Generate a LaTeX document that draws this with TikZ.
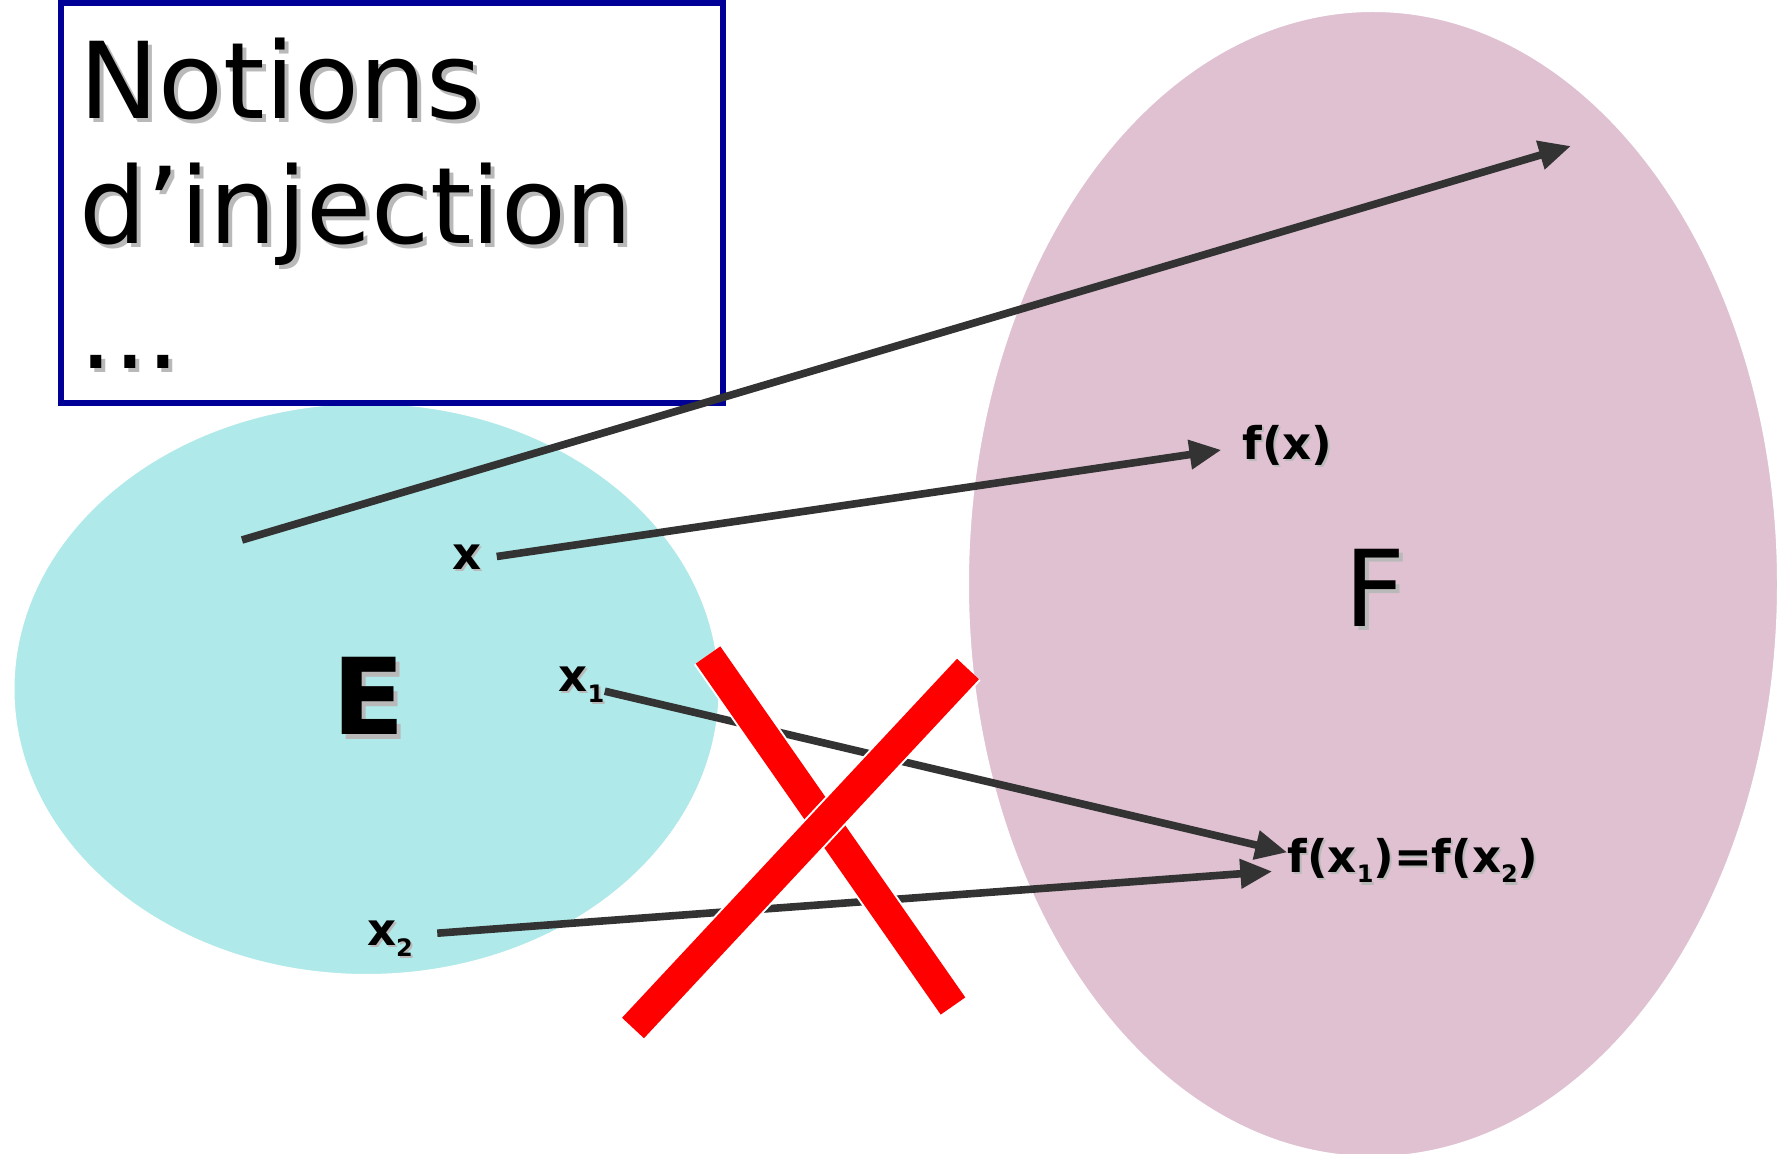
\documentclass[tikz,border=0pt]{standalone}
\usepackage{fontspec}
\setmainfont{DejaVu Sans}
\usetikzlibrary{arrows.meta}

\definecolor{cyanE}{RGB}{176,233,233}
\definecolor{roseF}{RGB}{224,193,209}
\definecolor{bleuCadre}{RGB}{0,0,150}
\definecolor{grisFleche}{RGB}{51,51,51}
\definecolor{grisOmbre}{RGB}{185,185,185}

% texte avec ombre portee grise
\newcommand{\ombre}[2][1pt]{\leavevmode\rlap{\hspace{#1}\raisebox{-#1}{\color{grisOmbre}#2}}#2}
\newcommand{\indice}[1]{\raisebox{-5.5pt}{\fontsize{12}{12}\selectfont #1}}

\begin{document}
\begin{tikzpicture}[x=0.5pt, y=-0.5pt,
    ens/.style={draw=white, line width=1pt},
    cadre/.style={draw=bleuCadre, line width=3pt, fill=white},
    fleche/.style={draw=grisFleche, line width=3.8pt, -{Triangle[length=16pt,width=14pt]}},
    croix/.style={draw=red, line width=15pt, preaction={draw=white, line width=17pt}},
    etiq/.style={inner sep=0pt, font=\fontsize{22.5}{27}\selectfont\bfseries},
    grand/.style={inner sep=0pt, font=\fontsize{53}{62}\selectfont}]
  \useasboundingbox (0,0) rectangle (1779,1154);
  \clip (0,0) rectangle (1779,1154);
  \fill[white] (0,0) rectangle (1779,1154);
  % Ensembles E et F
  \filldraw[ens, fill=cyanE] (366.5,689) ellipse [x radius=353, y radius=286];
  \filldraw[ens, fill=roseF] (1373,584) ellipse [x radius=405, y radius=573];
  % Titre (la base est celle de la derniere ligne)
  \draw[cadre] (61,3) rectangle (723,403);
  \node[grand, anchor=base west, align=left, font=\fontsize{53}{62.5}\selectfont] (titre) at (79,369)
    {\ombre[2pt]{Notions}\\\ombre[2pt]{d’injection}\\\ombre[2pt]{...}};
  % Noms des ensembles
  \node[grand, font=\fontsize{53}{62}\selectfont\bfseries, anchor=base] (labE) at (369,735) {\ombre[2pt]{E}};
  \node[grand, anchor=base] (labF) at (1375,627) {\ombre[2pt]{F}};
  % Elements et images
  \node[etiq, anchor=base] (x) at (467,570) {\ombre{x}};
  \node[etiq, anchor=base] (fx) at (1287.5,460) {\ombre{f(x)}};
  \node[etiq, anchor=base] (x1) at (581.5,692) {\ombre{x\indice{1}}};
  \node[etiq, anchor=base] (x2) at (390,945) {\ombre{x\indice{2}}};
  \node[etiq, anchor=base] (fx12) at (1413,872) {\ombre{f(x\indice{1})=f(x\indice{2})}};
  \coordinate (depart) at (242,540);
  \coordinate (arrivee) at (1571,146);
  % Fleches
  \draw[fleche] (depart) -- (arrivee);
  \draw[fleche, shorten <=7.5pt, shorten >=10.5pt] (x.east) -- (fx.west);
  \draw[fleche] ([yshift=-2.5pt]x1.east) -- ([yshift=4.5pt]fx12.west);
  \draw[fleche] ([xshift=12pt,yshift=3pt]x2.east) -- ([xshift=-7.5pt,yshift=-5pt]fx12.west);
  % Croix rouge : pas injective
  \draw[croix] (708,655) -- (953,1006);
  \draw[croix] (968,669) -- (633,1028);
\end{tikzpicture}
\end{document}
